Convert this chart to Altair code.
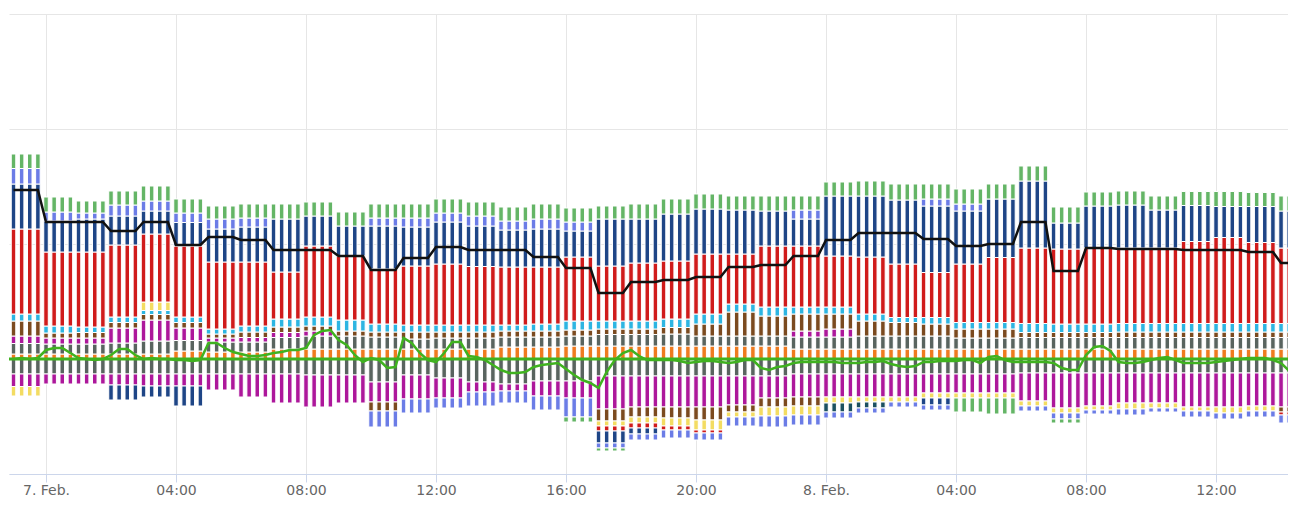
import altair as alt
import pandas as pd

# ---------------- data (hourly, 6 Feb 23:00 ... 8 Feb 14:00) ----------------
hour_start = "2024-02-06 23:00"
n_hours = 40

# positive stack, from zero upward
orange_up = [50, 50, 50, 50, 50, 80, 70, 70, 100, 100, 100, 100, 100, 100, 100, 120, 120, 130, 130, 130,
             130, 130, 130, 130, 100, 100, 100, 100, 100, 100, 100, 100, 100, 100, 100, 100, 100, 100, 100, 100]
gray_up = [105, 100, 100, 110, 130, 105, 100, 100, 115, 130, 130, 120, 100, 110, 110, 100, 100, 100, 115, 115,
           120, 100, 100, 100, 120, 120, 130, 130, 130, 110, 110, 115, 115, 115, 115, 115, 115, 115, 115, 115]
magenta_up = [75, 60, 60, 150, 210, 125, 40, 45, 50, 50, 0, 0, 0, 0, 0, 0, 0, 0, 0, 0,
              0, 0, 0, 0, 60, 80, 0, 0, 0, 0, 0, 0, 0, 0, 0, 0, 0, 0, 0, 0]
brown_up = [150, 50, 55, 55, 55, 55, 40, 55, 55, 50, 50, 50, 70, 60, 60, 60, 60, 60, 55, 55,
            65, 120, 240, 200, 170, 150, 150, 135, 120, 90, 90, 50, 50, 50, 55, 55, 55, 55, 55, 55]
cyan_up = [70, 70, 55, 55, 40, 55, 50, 60, 80, 90, 110, 80, 70, 70, 70, 60, 70, 90, 80, 80,
           85, 100, 80, 90, 70, 70, 70, 50, 65, 65, 65, 90, 85, 85, 85, 85, 85, 85, 85, 85]
yellow_up = [0, 0, 0, 0, 85, 0, 0, 0, 0, 0, 0, 0, 0, 0, 0, 0, 0, 0, 0, 0,
             0, 0, 0, 0, 0, 0, 0, 0, 0, 0, 0, 0, 0, 0, 0, 0, 0, 0, 0, 0]
red_up = [850, 740, 750, 720, 680, 710, 670, 640, 470, 710, 640, 550, 590, 610, 585, 580, 570, 640, 550, 580,
          580, 600, 500, 610, 610, 510, 570, 535, 450, 585, 650, 755, 750, 760, 755, 755, 820, 860, 810, 755]
navy_up = [450, 310, 330, 290, 230, 235, 330, 350, 530, 300, 300, 430, 390, 420, 405, 370, 380, 260, 470, 440,
           470, 450, 440, 350, 270, 600, 610, 640, 665, 530, 585, 670, 260, 420, 430, 380, 360, 310, 360, 370]
peri_up = [155, 90, 60, 110, 100, 95, 100, 90, 0, 0, 0, 80, 90, 90, 100, 90, 100, 90, 0, 0,
           0, 0, 0, 0, 90, 0, 0, 0, 70, 70, 0, 0, 0, 0, 0, 0, 0, 0, 0, 0]
green_up = [145, 150, 120, 140, 150, 140, 130, 140, 150, 140, 140, 140, 140, 140, 140, 140, 150, 140, 130, 150,
            150, 150, 140, 150, 140, 140, 150, 160, 150, 150, 150, 150, 160, 140, 140, 140, 140, 150, 140, 150]

# negative stack, from zero downward (magnitudes)
gray_dn = [150, 150, 150, 150, 150, 150, 150, 150, 150, 160, 160, 230, 160, 190, 230, 250, 220, 220, 170, 170,
           170, 170, 170, 170, 150, 150, 150, 150, 150, 150, 150, 140, 140, 140, 140, 140, 140, 140, 140, 140]
magenta_dn = [125, 100, 100, 110, 120, 120, 160, 230, 290, 320, 280, 200, 240, 200, 100, 70, 150, 170, 330, 310,
              310, 310, 290, 220, 230, 230, 230, 230, 190, 190, 190, 280, 350, 330, 300, 300, 340, 340, 330, 340]
brown_dn = [0, 0, 0, 0, 0, 0, 0, 0, 0, 0, 0, 90, 0, 0, 0, 0, 0, 0, 120, 100,
            110, 130, 70, 90, 90, 0, 0, 0, 0, 0, 0, 0, 0, 0, 0, 0, 0, 0, 0, 50]
yellow_dn = [95, 0, 0, 0, 0, 0, 0, 0, 0, 0, 0, 0, 0, 0, 0, 0, 0, 0, 50, 60,
             80, 100, 50, 90, 90, 60, 50, 50, 50, 50, 50, 50, 50, 40, 60, 50, 40, 60, 50, 0]
red_dn = [0, 0, 0, 0, 0, 0, 0, 0, 0, 0, 0, 0, 0, 0, 0, 0, 0, 0, 50, 50,
          40, 30, 0, 0, 0, 0, 0, 0, 0, 0, 0, 0, 0, 0, 0, 0, 0, 0, 0, 30]
navy_dn = [0, 0, 0, 150, 110, 200, 0, 0, 0, 0, 0, 0, 0, 0, 0, 0, 0, 0, 120, 60,
           0, 0, 0, 0, 0, 0, 0, 0, 70, 0, 0, 0, 0, 0, 0, 0, 0, 0, 0, 0]
teal_dn = [0, 0, 0, 0, 0, 0, 0, 0, 0, 0, 0, 0, 0, 0, 0, 0, 0, 0, 0, 0,
           0, 0, 0, 0, 0, 90, 60, 0, 0, 0, 0, 0, 0, 0, 0, 0, 0, 0, 0, 0]
peri_dn = [0, 0, 0, 0, 0, 0, 0, 0, 0, 0, 0, 160, 140, 100, 140, 120, 140, 190, 50, 60,
           80, 70, 90, 110, 100, 60, 50, 50, 50, 0, 0, 50, 60, 40, 60, 40, 60, 60, 60, 80]
green_dn = [0, 0, 0, 0, 0, 0, 0, 0, 0, 0, 0, 0, 0, 0, 0, 0, 0, 50, 30, 0,
            0, 0, 0, 0, 0, 0, 0, 0, 0, 140, 160, 0, 40, 0, 0, 0, 0, 0, 0, 0]

# black line (hourly)
black_line = [1690, 1370, 1370, 1280, 1370, 1140, 1220, 1190, 1090, 1090, 1030, 890, 1010, 1120, 1090, 1090,
              1020, 910, 660, 770, 790, 820, 920, 940, 1030, 1190, 1260, 1260, 1200, 1130, 1150, 1370,
              880, 1110, 1100, 1100, 1090, 1090, 1070, 960]

# green line (quarter-hourly, starting 6 Feb 23:00)
green_line = [0, 10, 0, 10, 90, 110, 110, 60, 10, 0, -10, 0, 40, 100, 100, 40,
              0, 10, 0, 0, -10, -10, -20, -10, 160, 160, 110, 70, 50, 30, 30, 40,
              60, 70, 90, 90, 110, 240, 280, 290, 190, 140, 40, -30, 10, -10, -90, -80,
              210, 160, 60, -10, -30, 60, 170, 170, 30, 20, -10, -60, -110, -140, -140, -130,
              -80, -60, -50, -40, -100, -160, -210, -240, -290, -130, -10, 60, 90, 30, -10, -10,
              -10, -10, -20, -40, -30, -20, -20, -30, -40, -30, -10, -10, -90, -110, -80, -70,
              -40, -30, -30, -30, -30, -30, -40, -40, -40, -30, -30, -20, -50, -70, -80, -70,
              -30, -30, -20, -20, -20, -10, -10, -40, 20, 30, -10, -30, -30, -30, -30, -30,
              -40, -90, -110, -110, 40, 120, 130, 80, -30, -40, -40, -30, -10, 10, 20, -10,
              -40, -40, -40, -40, -30, -20, -10, 0, 10, 10, 10, -10, -40, -120]

x_ticks = ["2024-02-07 00:00", "2024-02-07 04:00", "2024-02-07 08:00", "2024-02-07 12:00",
           "2024-02-07 16:00", "2024-02-07 20:00", "2024-02-08 00:00", "2024-02-08 04:00",
           "2024-02-08 08:00", "2024-02-08 12:00"]
y_grid = [-1150, 0, 1150, 2300, 3450]

# ---------------- styling ----------------
C_ORANGE, C_GRAY, C_MAGENTA, C_BROWN = "#ef7b1f", "#59645f", "#ad179b", "#7b4a1f"
C_CYAN, C_YELLOW, C_RED, C_NAVY = "#2db5e2", "#f3dc62", "#d01b1b", "#1e4586"
C_PERI, C_GREEN, C_TEAL = "#6b7ce6", "#64b566", "#1b5060"
LINE_GREEN = "#3fb21f"

stack_series = [
    ("Orange +", orange_up, 1, C_ORANGE), ("Grau +", gray_up, 1, C_GRAY),
    ("Magenta +", magenta_up, 1, C_MAGENTA), ("Braun +", brown_up, 1, C_BROWN),
    ("Cyan +", cyan_up, 1, C_CYAN), ("Gelb +", yellow_up, 1, C_YELLOW),
    ("Rot +", red_up, 1, C_RED), ("Blau +", navy_up, 1, C_NAVY),
    ("Violett +", peri_up, 1, C_PERI), ("Grün +", green_up, 1, C_GREEN),
    ("Grau -", gray_dn, -1, C_GRAY), ("Magenta -", magenta_dn, -1, C_MAGENTA),
    ("Braun -", brown_dn, -1, C_BROWN), ("Gelb -", yellow_dn, -1, C_YELLOW),
    ("Rot -", red_dn, -1, C_RED), ("Blau -", navy_dn, -1, C_NAVY),
    ("Petrol -", teal_dn, -1, C_TEAL), ("Violett -", peri_dn, -1, C_PERI),
    ("Grün -", green_dn, -1, C_GREEN),
]

# one timestamp per quarter hour (as epoch milliseconds)
HOUR_MS = 3_600_000
QUARTER_MS = 900_000
HALF_BAR_MS = 250_000
start_ms = int(pd.Timestamp(hour_start, tz="UTC").value // 1_000_000)

# stacking: positive values upward from zero, negative values downward from zero
rows = []
for k in range(n_hours):
    up, down = 0, 0
    for name, vals, sign, _ in stack_series:
        v = vals[k]
        if v == 0:
            continue
        if sign > 0:
            y0, y1 = up, up + v
            up = y1
        else:
            y0, y1 = down, down - v
            down = y1
        for j in range(4):
            t = start_ms + k * HOUR_MS + j * QUARTER_MS
            rows.append({"series": name, "q": 4 * k + j, "t0": t - HALF_BAR_MS, "t1": t + HALF_BAR_MS,
                         "y0": y0, "y1": y1, "value": sign * v})
bars_df = pd.DataFrame(rows)

black_rows = []
for k, v in enumerate(black_line):
    for j in range(4):
        black_rows.append({"t": start_ms + k * HOUR_MS + j * QUARTER_MS, "value": v})
black_df = pd.DataFrame(black_rows)

green_df = pd.DataFrame({
    "t": [start_ms + i * QUARTER_MS for i in range(len(green_line))],
    "value": green_line,
})

x_dom = [int(pd.Timestamp("2024-02-06 22:51:40", tz="UTC").value // 1_000_000),
         int(pd.Timestamp("2024-02-08 14:12:50", tz="UTC").value // 1_000_000)]
x_vals = [int(pd.Timestamp(s, tz="UTC").value // 1_000_000) for s in x_ticks]

x_scale = alt.Scale(type="utc", domain=x_dom, nice=False, padding=0)
y_scale = alt.Scale(domain=[-1150, 3450], nice=False, zero=False)

x_axis = alt.Axis(
    values=x_vals, title=None, grid=True, gridColor="#e6e6e6", gridWidth=1,
    domainColor="#ccd6eb", tickColor="#ccd6eb", tickSize=8, labelPadding=1,
    labelColor="#666666", labelFontSize=14, labelFont="DejaVu Sans",
    labelExpr="utchours(datum.value) == 0 ? utcFormat(datum.value, '%-d. %b.') : utcFormat(datum.value, '%H:%M')",
    labelFlush=False, labelOverlap=False, orient="bottom",
)
y_axis = alt.Axis(values=y_grid, title=None, labels=False, ticks=False, domain=False, grid=True,
                  gridColor="#e6e6e6", minExtent=0, maxExtent=0)

color_scale = alt.Scale(domain=[s[0] for s in stack_series], range=[s[3] for s in stack_series])

bars = alt.Chart(bars_df).mark_rect(stroke="white", strokeWidth=1, clip=True).encode(
    x=alt.X("t0:T", scale=x_scale, axis=x_axis),
    x2="t1:T",
    y=alt.Y("y0:Q", scale=y_scale, axis=y_axis),
    y2="y1:Q",
    color=alt.Color("series:N", scale=color_scale, legend=None),
    detail="q:O",
)

zero_rule = alt.Chart(pd.DataFrame({"value": [0]})).mark_rule(color=LINE_GREEN, strokeWidth=3).encode(
    y=alt.Y("value:Q", scale=y_scale),
)

green = alt.Chart(green_df).mark_line(color=LINE_GREEN, strokeWidth=2.5, clip=True).encode(
    x=alt.X("t:T", scale=x_scale), y=alt.Y("value:Q", scale=y_scale),
)

black = alt.Chart(black_df).mark_line(color="#111111", strokeWidth=2.5, clip=True).encode(
    x=alt.X("t:T", scale=x_scale), y=alt.Y("value:Q", scale=y_scale),
)

chart = alt.layer(bars, zero_rule, green, black).properties(
    width=1279, height=460,
    padding={"left": 1, "top": 6, "right": 0, "bottom": 27},
    autosize=alt.AutoSizeParams(type="none"),
    background="white",
).configure_view(stroke=None)

chart.save("out.html", embed_options={"renderer": "svg", "actions": False})
